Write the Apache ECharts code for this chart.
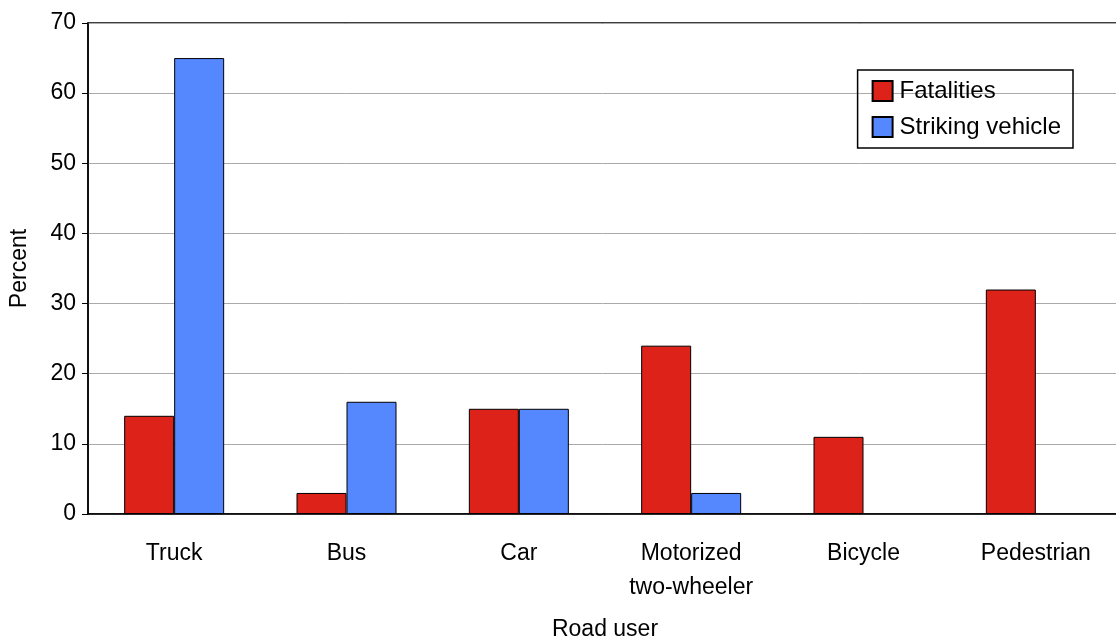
<!DOCTYPE html>
<html>
<head>
<meta charset="utf-8">
<script src="https://cdn.jsdelivr.net/npm/echarts@6/dist/echarts.min.js"></script>
<style>html,body{margin:0;padding:0;background:#fff}#chart{width:1116px;height:644px}</style>
</head>
<body>
<div id="chart"></div>
<script>
// road user categories
var roadUsers = ['Truck', 'Bus', 'Car', 'Motorized\ntwo-wheeler', 'Bicycle', 'Pedestrian'];
var fatalities = [14, 3, 15, 24, 11, 32];
var strikingVehicle = [65, 16, 15, 3, 0, 0];

// zero-height bars are not drawn in the original
function hideZero(arr) {
    return arr.map(function (v) { return v === 0 ? '-' : v; });
}

var chart = echarts.init(document.getElementById('chart'));
var font = 'Liberation Sans, Arial, sans-serif';
chart.setOption({
    animation: false,
    textStyle: {fontFamily: font},
    grid: {left: 88, right: -6, top: 23, bottom: 130, outerBoundsMode: 'none',
        show: true, borderColor: '#000', borderWidth: 1.5},
    legend: {
        data: ['Fatalities', 'Striking vehicle'],
        orient: 'vertical',
        right: 43, top: 70,
        padding: [9, 12, 9, 14],
        itemGap: 12,
        borderColor: '#000', borderWidth: 1.5,
        itemWidth: 20, itemHeight: 20,
        icon: 'rect',
        textStyle: {fontSize: 24, color: '#000', fontFamily: font, padding: [0, 0, 0, 2]}
    },
    xAxis: {
        type: 'category',
        data: roadUsers,
        name: 'Road user',
        nameLocation: 'middle',
        nameGap: 104,
        nameTextStyle: {fontSize: 23, color: '#000'},
        axisLine: {lineStyle: {color: '#000', width: 1.5}},
        axisTick: {show: false},
        axisLabel: {fontSize: 23, color: '#000', margin: 23, lineHeight: 34}
    },
    yAxis: {
        type: 'value',
        min: 0, max: 70, interval: 10,
        name: 'Percent',
        nameLocation: 'middle',
        nameGap: 57,
        nameTextStyle: {fontSize: 23, color: '#000'},
        axisLine: {show: true, lineStyle: {color: '#000', width: 1.5}},
        axisTick: {show: true, length: 6, lineStyle: {color: '#000'}},
        axisLabel: {fontSize: 23, color: '#000', margin: 12},
        splitLine: {lineStyle: {color: '#aaa', width: 1}}
    },
    series: [{
        name: 'Fatalities', type: 'bar', data: hideZero(fatalities),
        barWidth: 50, barGap: '0%',
        itemStyle: {color: '#dd2219', borderColor: '#000', borderWidth: 1}
    }, {
        name: 'Striking vehicle', type: 'bar', data: hideZero(strikingVehicle),
        barWidth: 50,
        itemStyle: {color: '#5588ff', borderColor: '#000', borderWidth: 1}
    }]
});
</script>
</body>
</html>
